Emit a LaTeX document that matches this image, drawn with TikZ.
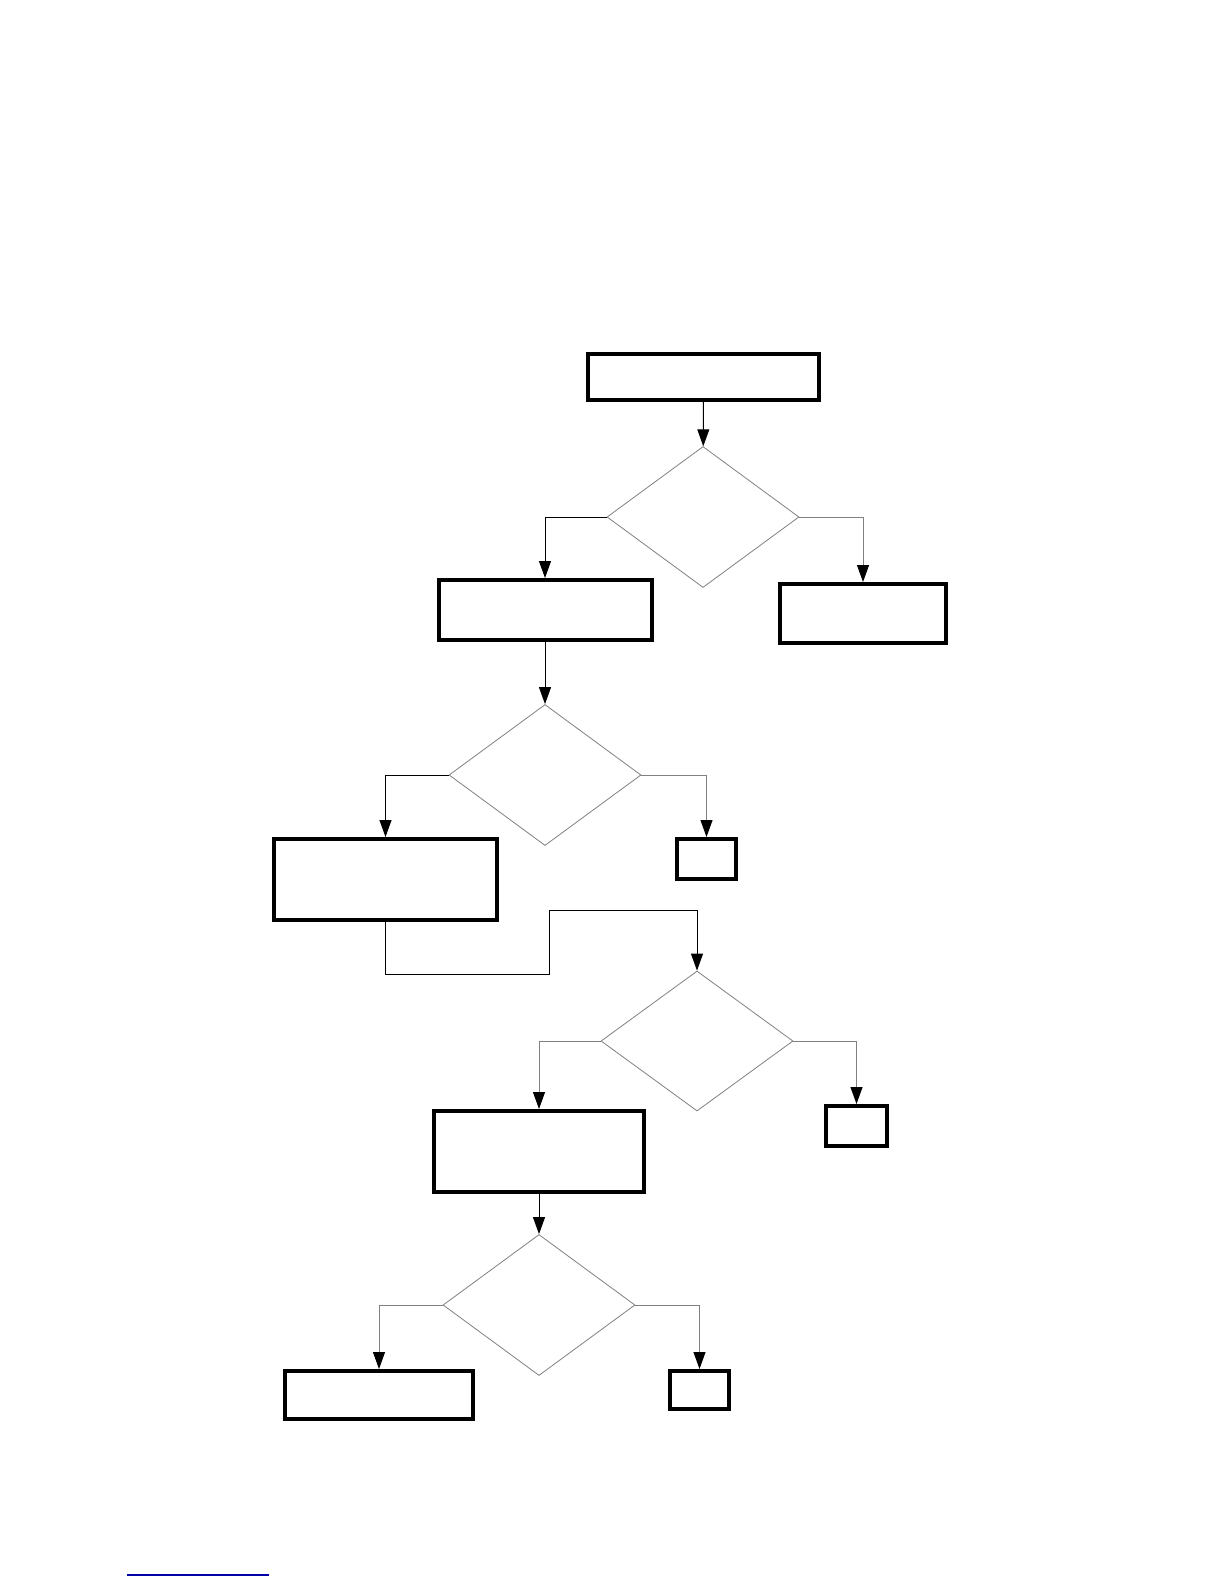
\documentclass[tikz,border=0pt]{standalone}
\usetikzlibrary{arrows.meta,shapes.geometric}
\definecolor{linkblue}{RGB}{0,0,170}

\begin{document}
\begin{tikzpicture}[x=0.5pt, y=-0.5pt,
  box/.style={draw, line width=2pt, inner sep=0pt},
  dec/.style={diamond, draw=gray, line width=0.4pt, inner sep=0pt,
    minimum width=96pt, minimum height=70.5pt},
  arr/.style={-{Triangle[length=8.5pt, width=6pt, color=black]}, line width=0.5pt},
  garr/.style={arr, draw=gray}]

  \useasboundingbox (0,0) rectangle (1224,1584);

  % ====== 第一层 ======
  \node[box, minimum width=115.5pt, minimum height=23pt] (b1) at (703.5,377) {};
  \node[dec] (d1) at (703,517) {};
  \node[box, minimum width=106.5pt, minimum height=30pt] (b2) at (545,610) {};
  \node[box, minimum width=83pt, minimum height=29.5pt] (b3) at (863,613.5) {};

  \draw[arr] (b1) -- (d1);
  \draw[arr] (d1.west) -| (b2.north);
  \draw[garr] (d1.east) -| (b3.north);

  % ====== 第二层 ======
  \node[dec] (d2) at (545,775) {};
  \node[box, minimum width=111.5pt, minimum height=40.5pt] (b4) at (385.5,879.5) {};
  \node[box, minimum width=29.5pt, minimum height=20pt] (b5) at (706.5,859) {};

  \draw[arr] (b2) -- (d2);
  \draw[arr] (d2.west) -| (b4.north);
  \draw[garr] (d2.east) -| (b5.north);

  % ====== 第三层 ======
  \node[dec, minimum height=70pt] (d3) at (697,1041) {};
  \node[box, minimum width=105pt, minimum height=40.5pt] (b6) at (539,1151.5) {};
  \node[box, minimum width=30.5pt, minimum height=20pt] (b7) at (856.5,1126) {};
  \coordinate (j1) at (549,974);
  \coordinate (j2) at (549,910);

  \draw[arr] (b4.south) |- (j1) -- (j2) -| (d3.north);
  \draw[garr] (d3.west) -| (b6.north);
  \draw[garr] (d3.east) -| (b7.north);

  % ====== 第四层 ======
  \node[dec] (d4) at (539,1305) {};
  \node[box, minimum width=94pt, minimum height=24pt] (b8) at (379,1395) {};
  \node[box, minimum width=29.5pt, minimum height=19pt] (b9) at (699.5,1390) {};

  \draw[arr] (b6) -- (d4);
  \draw[garr] (d4.west) -| (b8.north);
  \draw[garr] (d4.east) -| (b9.north);

  % 页脚链接下划线
  \draw[linkblue, line width=1pt] (127,1575) -- (269,1575);

\end{tikzpicture}
\end{document}
